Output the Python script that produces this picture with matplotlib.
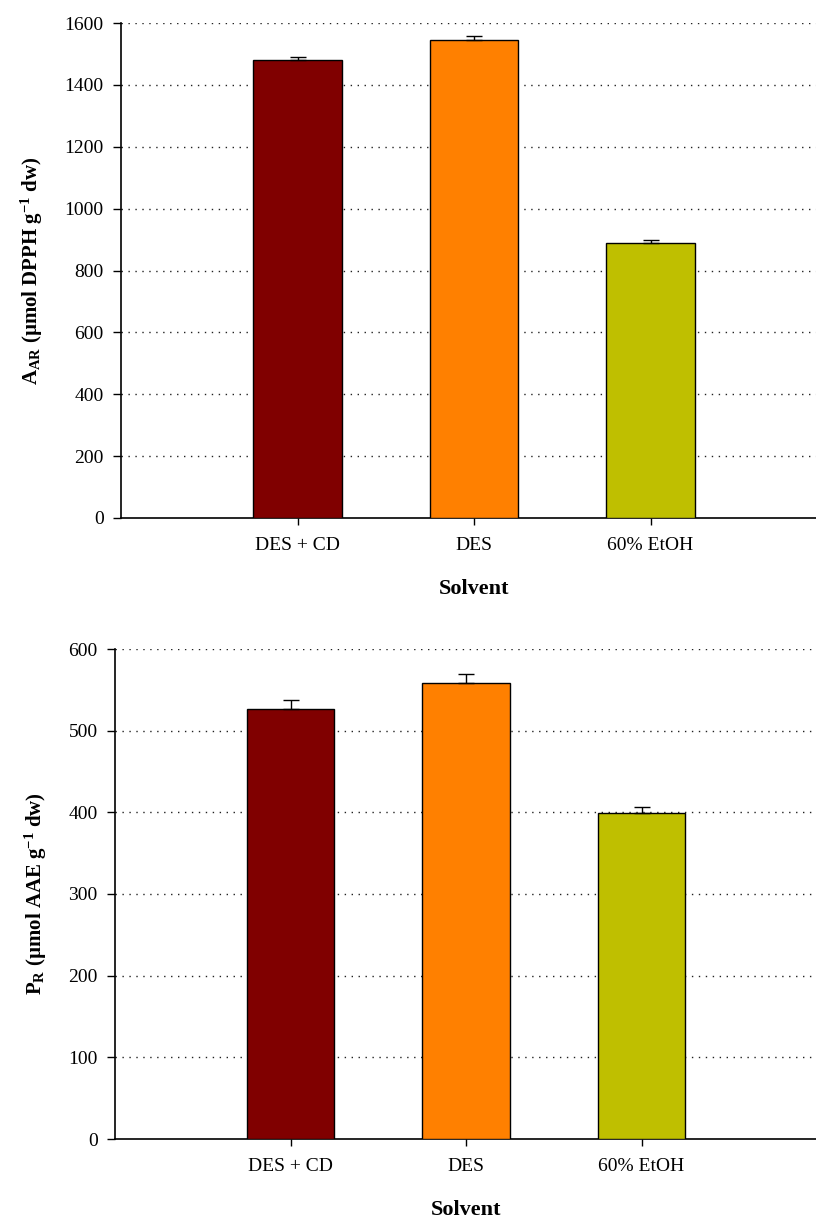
import numpy as np
import matplotlib
matplotlib.use('Agg')
import matplotlib.pyplot as plt

plt.rcParams['font.family'] = ['Liberation Serif', 'DejaVu Serif']
plt.rcParams['mathtext.fontset'] = 'custom'
plt.rcParams['mathtext.rm'] = 'Liberation Serif'
plt.rcParams['mathtext.it'] = 'Liberation Serif:italic'
plt.rcParams['mathtext.bf'] = 'Liberation Serif:bold'

solvents = ['DES + CD', 'DES', '60% EtOH']
colors = ['#800000', '#ff8000', '#bfbf00']

# antiradical activity (umol DPPH / g dw)
aar = [1480, 1546, 888]
aar_err = [11, 13, 10]

# reducing power (umol AAE / g dw)
pr = [527, 558, 399]
pr_err = [10, 11, 8]

fig = plt.figure(figsize=(8.16, 12.18), dpi=100)
W, H = 816.0, 1218.0

def make_ax(left, right, top, bottom):
    return fig.add_axes([left / W, 1 - bottom / H, (right - left) / W, (bottom - top) / H])

def draw(ax, vals, errs, ymax, ystep, ylabel):
    x = np.arange(len(vals))
    ax.bar(x, vals, width=0.5, color=colors, edgecolor='black', linewidth=1.0, zorder=3)
    ax.errorbar(x, vals, yerr=[np.zeros(len(errs)), errs], fmt='none', ecolor='black',
                elinewidth=1.0, capsize=5.5, capthick=1.0, zorder=4)
    ax.set_xlim(-1, 3)
    ax.set_ylim(0, ymax)
    ax.set_yticks(np.arange(0, ymax + 1, ystep))
    ax.set_xticks(x)
    ax.set_xticklabels(solvents, fontsize=14)
    ax.tick_params(axis='y', labelsize=14, direction='out', length=5.5, width=1, pad=7)
    ax.tick_params(axis='x', direction='out', length=5, width=1, pad=9)
    for t in ax.get_yticks()[1:]:
        ax.axhline(t, color='#222222', linestyle=(0, (1, 4)), linewidth=1.0, zorder=1)
    ax.spines['top'].set_visible(False)
    ax.spines['right'].set_visible(False)
    ax.spines['left'].set_linewidth(1.2)
    ax.spines['bottom'].set_linewidth(1.2)
    ax.set_xlabel('Solvent', fontsize=16, fontweight='bold', labelpad=18)
    ax.set_ylabel(ylabel, fontsize=15, fontweight='bold', labelpad=14)

ax1 = make_ax(121, 827, 23, 518)
draw(ax1, aar, aar_err, 1600, 200,
     r'$\mathbf{A_{AR}}$ (µmol DPPH g$^{\mathbf{-1}}$ dw)')

ax2 = make_ax(115, 817, 649, 1139)
draw(ax2, pr, pr_err, 600, 100,
     r'$\mathbf{P_{R}}$ (µmol AAE g$^{\mathbf{-1}}$ dw)')

fig.savefig('out.png', dpi=100)
